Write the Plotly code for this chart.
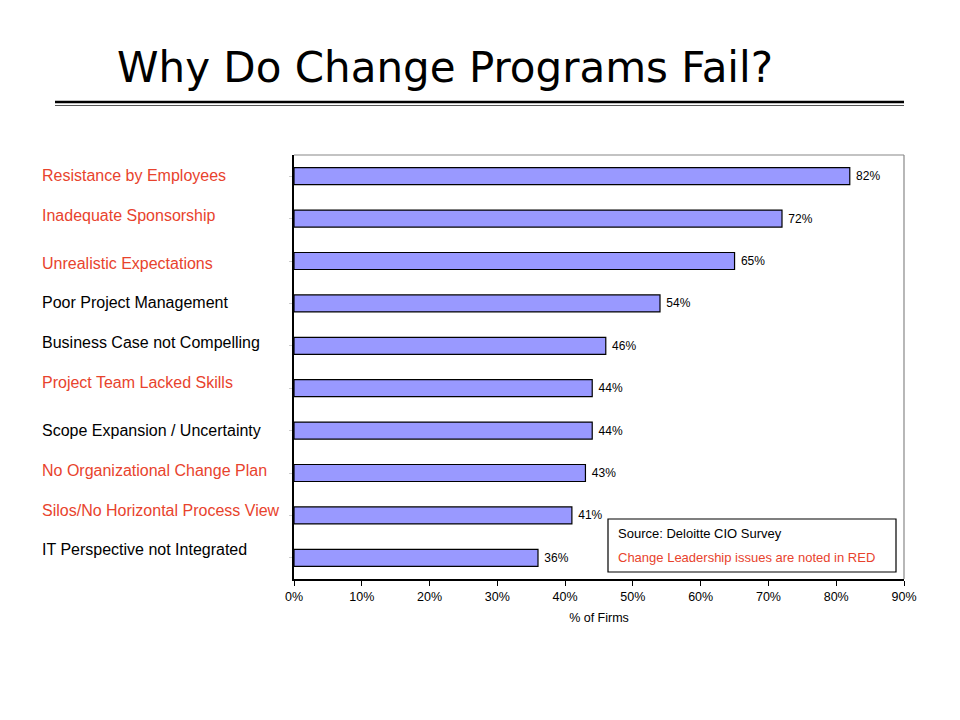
import plotly.graph_objects as go

categories = [
    "Resistance by Employees",
    "Inadequate Sponsorship",
    "Unrealistic Expectations",
    "Poor Project Management",
    "Business Case not Compelling",
    "Project Team Lacked Skills",
    "Scope Expansion / Uncertainty",
    "No Organizational Change Plan",
    "Silos/No Horizontal Process View",
    "IT Perspective not Integrated",
]
values = [82, 72, 65, 54, 46, 44, 44, 43, 41, 36]
is_red = [True, True, True, False, False, True, False, True, True, False]
x_ticks = [0, 10, 20, 30, 40, 50, 60, 70, 80, 90]

# small vertical nudges of the side labels (pixels, up = positive)
label_nudge = [1, 3, -2, 1, 3, 6, 0, 3, 5, 8]

RED = "#E8432D"
FONT = "Liberation Sans, Arial"

# page body has an 8px margin; work in screen pixels and shift
OFF = 8
W, H = 960, 720
L, R, T = 294 - OFF, 56 + OFF, 155 - OFF
B = H - T - 424
PW, PH = W - L - R, H - T - B


def px(xs):
    return (xs - OFF - L) / PW


def py(ys):
    return (H - B - (ys - OFF)) / PH


fig = go.Figure()
fig.add_trace(go.Bar(
    y=categories, x=values, orientation="h",
    marker=dict(color="#9999FF", line=dict(color="black", width=1.2)),
    width=0.4,
    text=[f"\u00a0{v}%" for v in values], textposition="outside",
    textfont=dict(family=FONT, size=12, color="black"),
    cliponaxis=False,
))

for c, r, n in zip(categories, is_red, label_nudge):
    fig.add_annotation(
        x=px(41), xref="paper", y=c, yref="y", text=c, showarrow=False,
        xanchor="left", yanchor="middle", yshift=n, borderpad=0,
        font=dict(family=FONT, size=16, color=RED if r else "black"),
    )

fig.update_layout(
    width=W, height=H,
    margin=dict(l=L, r=R, t=T, b=B, autoexpand=False),
    paper_bgcolor="white", plot_bgcolor="white",
    showlegend=False,
    xaxis=dict(
        range=[0, 90], tickvals=x_ticks, ticktext=[f"{t}%" for t in x_ticks],
        showgrid=False, zeroline=False, showline=True, linecolor="black", linewidth=1.5,
        ticks="outside", ticklen=5, tickcolor="black", automargin=False,
        tickfont=dict(family=FONT, size=12.5, color="black"),
        title=dict(text="% of Firms", font=dict(family=FONT, size=12.5, color="black"), standoff=10),
    ),
    yaxis=dict(
        categoryorder="array", categoryarray=categories, autorange="reversed",
        showticklabels=False, showgrid=False, zeroline=False, automargin=False,
        showline=True, linecolor="black", linewidth=1.5,
        ticks="outside", ticklen=3, tickcolor="#cccccc",
    ),
    shapes=[
        dict(type="line", xref="paper", yref="paper", x0=0, x1=1, y0=1, y1=1, line=dict(color="#888888", width=1.2)),
        dict(type="line", xref="paper", yref="paper", x0=1, x1=1, y0=0, y1=1, line=dict(color="#888888", width=1.2)),
        dict(type="line", xref="paper", yref="paper", x0=px(55), x1=px(904), y0=py(102), y1=py(102),
             line=dict(color="black", width=2.5)),
        dict(type="line", xref="paper", yref="paper", x0=px(55), x1=px(904), y0=py(105.5), y1=py(105.5),
             line=dict(color="#555555", width=1)),
        dict(type="rect", xref="paper", yref="paper", x0=px(608), x1=px(896), y0=py(572), y1=py(519),
             line=dict(color="black", width=1.2), fillcolor="white"),
    ],
)

fig.add_annotation(
    text="Why Do Change Programs Fail?", xref="paper", yref="paper",
    x=px(445), y=py(68), showarrow=False, xanchor="center", yanchor="middle",
    font=dict(family="DejaVu Sans", size=42, color="black"),
)
fig.add_annotation(
    text="Source: Deloitte CIO Survey", xref="paper", yref="paper",
    x=px(617), y=py(533), showarrow=False, xanchor="left", yanchor="middle", borderpad=0,
    font=dict(family=FONT, size=13, color="black"),
)
fig.add_annotation(
    text="Change Leadership issues are noted in RED", xref="paper", yref="paper",
    x=px(617), y=py(557), showarrow=False, xanchor="left", yanchor="middle", borderpad=0,
    font=dict(family=FONT, size=13, color=RED),
)

fig.write_html("out.html")
